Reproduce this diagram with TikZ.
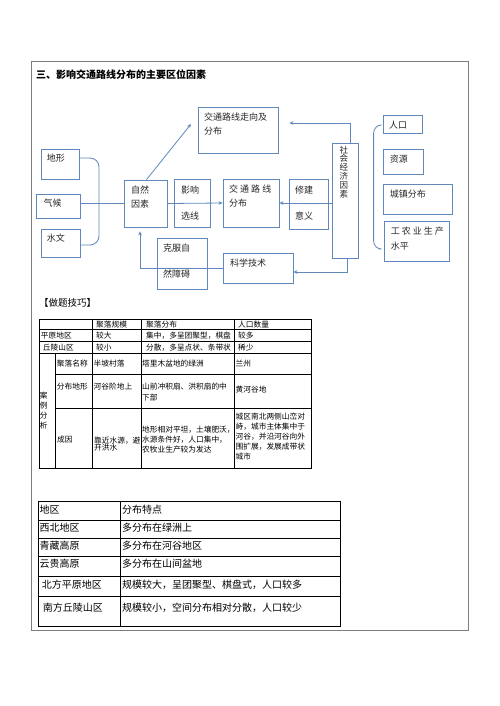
\documentclass[tikz,border=0pt]{standalone}
\usepackage{fontspec}
\newfontfamily\cjk{Noto Sans CJK SC}
\usepackage{xcolor}
\usetikzlibrary{arrows.meta}
\definecolor{DiagBlue}{RGB}{96,136,186}
\definecolor{FrameGray}{RGB}{125,125,125}

\begin{document}
\begin{tikzpicture}[x=1pt,y=-1pt,
  box/.style={draw=DiagBlue, line width=0.8pt, inner sep=0pt},
  txt/.style={inner sep=0pt, anchor=west, align=left, text=black!85,
    font=\cjk\fontsize{9}{11}\selectfont},
  tab/.style={inner sep=0pt, anchor=west, align=left,
    font=\cjk\fontsize{7.7}{10}\selectfont},
  tabb/.style={inner sep=0pt, anchor=west, font=\cjk\fontsize{10}{12}\selectfont},
  tabline/.style={black, line width=0.8pt},
  link/.style={DiagBlue, line width=0.8pt},
  linkarr/.style={link, -{Stealth[length=4pt,width=3.6pt]}}]
  \path[use as bounding box] (0,0) rectangle (500,706);
  \fill[white] (0,0) rectangle (500,706);
  \draw[FrameGray, line width=0.8pt] (31,61) rectangle (468.5,630);

  \node[inner sep=0pt, anchor=west, font=\cjk\bfseries\fontsize{10}{12}\selectfont] (title) at (36,74.5) {三、影响交通路线分布的主要区位因素};

  % boxes of the chart
  \node[box, minimum width=80, minimum height=46] (zouxiang) at (238,130) {};
  \node[box, minimum width=38, minimum height=30] (dixing) at (60,164) {};
  \node[box, minimum width=44, minimum height=24] (qihou) at (58,206) {};
  \node[box, minimum width=39, minimum height=28] (shuiwen) at (60.5,243) {};
  \node[box, minimum width=43, minimum height=47] (ziran) at (145.5,203.5) {};
  \node[box, minimum width=36, minimum height=48] (xuanxian) at (192,203) {};
  \node[box, minimum width=56, minimum height=48] (fenbu) at (251,203) {};
  \node[box, minimum width=39, minimum height=50] (xiujian) at (308.5,204) {};
  \node[box, minimum width=26, minimum height=115] (shehui) at (345,200.5) {};
  \node[box, minimum width=70, minimum height=30] (keji) at (258,268) {};
  \node[box, minimum width=50, minimum height=51] (kefu) at (182,263.5) {};
  \node[box, minimum width=39, minimum height=18] (renkou) at (402.5,124) {};
  \node[box, minimum width=40, minimum height=25] (ziyuan) at (403,161.5) {};
  \node[box, minimum width=69, minimum height=30] (chengzhen) at (417.5,199) {};
  \node[box, minimum width=65, minimum height=40] (gongnong) at (416.5,241) {};

  % texts of the chart
  \node[txt] (zouxiangT) at (204,124) {交通路线走向及\\[2.4pt]分布};
  \node[txt] (dixingT) at (46.7,158.3) {地形};
  \node[txt] (qihouT) at (43.3,203.3) {气候};
  \node[txt] (shuiwenT) at (46.7,238.3) {水文};
  \node[txt] (ziranT) at (131,197) {自然\\[3pt]因素};
  \node[txt] (xuanxianT) at (181,203) {影响\\[15pt]选线};
  \node[txt] (fenbuT) at (229,196.3) {交 通 路 线\\[3pt]分布};
  \node[txt] (xiujianT) at (295,203) {修建\\[15pt]意义};
  \node[txt, anchor=center, align=center, font=\cjk\fontsize{8.5}{8.9}\selectfont] (shehuiT) at (343.8,172) {社\\会\\经\\济\\因\\素};
  \node[txt] (kejiT) at (230,263.3) {科学技术};
  \node[txt] (kefuT) at (163,261.2) {克服自\\[14.7pt]然障碍};
  \node[txt] (renkouT) at (389,125) {人口};
  \node[txt] (ziyuanT) at (389.7,159.3) {资源};
  \node[txt] (chengzhenT) at (389.7,194.3) {城镇分布};
  \node[txt] (gongnongT) at (390.7,238.3) {工 农 业 生 产\\[3.7pt]水平};

  % connectors
  \coordinate (zxTip) at (191,124);
  \draw[link, rounded corners=9pt] ([yshift=6pt]dixing.east) -| (99,200) |- ([yshift=-2pt]shuiwen.east);
  \draw[link] (qihou.east |- ziran) -- (ziran.west);
  \draw[linkarr] ([xshift=1pt]ziran.north) -- (zxTip);
  \draw[linkarr] (ziran.east) -- (fenbu.west);
  \draw[linkarr] (shehui.west |- fenbu) -- (fenbu.east);
  \draw[linkarr] ([xshift=5pt]shehui.north) |- ([xshift=11pt,yshift=7pt]zouxiang.east);
  \draw[linkarr] ([xshift=2pt]shehui.south) |- ([yshift=-4pt]keji.east);
  \draw[linkarr] (keji.west) -| ([xshift=-5.5pt,yshift=-4pt]ziran.south);
  \draw[link, rounded corners=8pt] ([xshift=-3pt,yshift=-1pt]renkou.west) -- ++(-6,0) |- ([xshift=-5pt,yshift=-8pt]gongnong.west);

  \node[inner sep=0pt, anchor=west, font=\cjk\fontsize{9.5}{11}\selectfont] (jiqiao) at (39,303.3) {【做题技巧】};

  % first table
  \draw[tabline] (39,319.3) rectangle (311,468.3);
  \foreach \y in {329.7,341.7,353.3}
    \draw[tabline] (39,\y) -- (311,\y);
  \foreach \y in {374,408.3}
    \draw[tabline] (55.7,\y) -- (311,\y);
  \foreach \x in {92.7,141.7,234.3}
    \draw[tabline] (\x,319.3) -- (\x,468.3);
  \draw[tabline] (55.7,353.3) -- (55.7,468.3);

  \node[tab] (h2) at (96,324.7) {聚落规模};
  \node[tab] (h3) at (146,324.7) {聚落分布};
  \node[tab] (h4) at (238,324.7) {人口数量};
  \node[tab] (a1) at (40.7,335.9) {平原地区};
  \node[tab] (a2) at (96,335.9) {较大};
  \node[tab] (a3) at (146,335.9) {集中，多呈团聚型，棋盘};
  \node[tab] (a4) at (238,335.9) {较多};
  \node[tab] (b1) at (42.7,347.6) {丘陵山区};
  \node[tab] (b2) at (96,347.6) {较小};
  \node[tab] (b3) at (146,347.6) {分散，多呈点状、条带状};
  \node[tab] (b4) at (238,347.6) {稀少};
  \node[tab, align=center, font=\cjk\fontsize{7.7}{10.2}\selectfont, anchor=north west] (anli) at (39.6,391.5) {案\\例\\分\\析};
  \node[tab] (c1) at (56.7,364) {聚落名称};
  \node[tab] (c2) at (93.5,364) {半坡村落};
  \node[tab] (c3) at (142,364) {塔里木盆地的绿洲};
  \node[tab] (c4) at (235.5,364) {兰州};
  \node[tab] (d1) at (56.7,386.7) {分布地形};
  \node[tab] (d2) at (93.5,386.7) {河谷阶地上};
  \node[tab] (d3) at (142,392) {山前冲积扇、洪积扇的中\\[0.6pt]下部};
  \node[tab] (d4) at (235.5,390) {黄河谷地};
  \node[tab] (e1) at (57,440) {成因};
  \node[tab] (e2) at (94,444) {靠近水源，避\\[-3pt]开洪水};
  \node[tab] (e3) at (142,440) {地形相对平坦，土壤肥沃，\\水源条件好，人口集中，\\农牧业生产较为发达};
  \node[tab] (e4) at (235.5,437) {城区南北两侧山峦对\\峙，城市主体集中于\\河谷，并沿河谷向外\\围扩展，发展成带状\\城市};

  % second table
  \draw[tabline] (38.3,501.7) rectangle (340,626.7);
  \foreach \y in {520,538.3,556.7,576,596}
    \draw[tabline] (38.3,\y) -- (340,\y);
  \draw[tabline, line width=1.1pt] (120.7,501.7) -- (120.7,626.7);

  \node[tabb] (r0a) at (39.5,509.5) {地区};
  \node[tabb] (r0b) at (122,509.5) {分布特点};
  \node[tabb] (r1a) at (39.5,527.7) {西北地区};
  \node[tabb] (r1b) at (122,527.7) {多分布在绿洲上};
  \node[tabb] (r2a) at (39.5,545.7) {青藏高原};
  \node[tabb] (r2b) at (122,545.7) {多分布在河谷地区};
  \node[tabb] (r3a) at (39.5,564) {云贵高原};
  \node[tabb] (r3b) at (122,564) {多分布在山间盆地};
  \node[tabb] (r4a) at (41.7,584.5) {北方平原地区};
  \node[tabb] (r4b) at (122,584.5) {规模较大，呈团聚型、棋盘式，人口较多};
  \node[tabb] (r5a) at (42.7,607.3) {南方丘陵山区};
  \node[tabb] (r5b) at (122,607.3) {规模较小，空间分布相对分散，人口较少};
\end{tikzpicture}
\end{document}
